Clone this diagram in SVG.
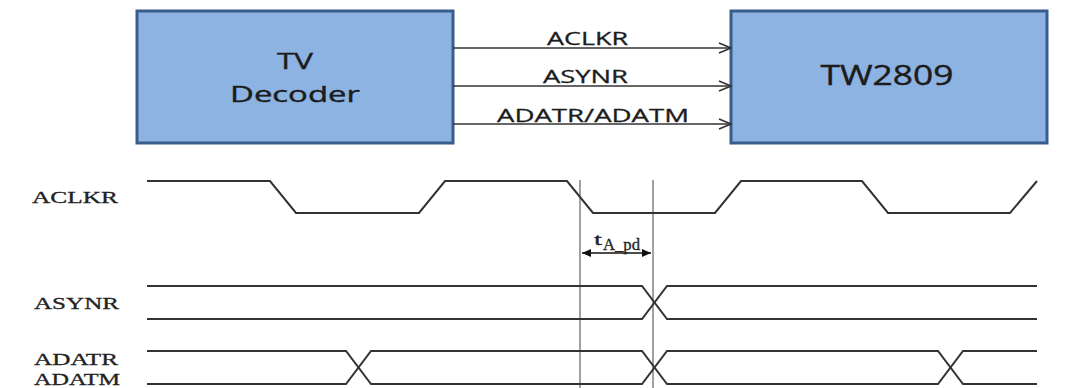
<svg xmlns="http://www.w3.org/2000/svg" width="1072" height="388" viewBox="0 0 1072 388">
<style>
.box{fill:#8db3e2;stroke:#385d8a;stroke-width:3}
.btxt{font-family:"Open Sans","Liberation Sans",sans-serif;fill:#1c1c1c;stroke:#1c1c1c;stroke-width:0.4;text-anchor:middle}
.conn{stroke:#333;stroke-width:1.5;fill:none}
.ltxt{font-family:"Open Sans","Liberation Sans",sans-serif;font-size:18px;fill:#1c1c1c;stroke:#1c1c1c;stroke-width:0.3}
.wave{stroke:#333;stroke-width:2;fill:none;stroke-linejoin:miter}
.sig{font-family:"Liberation Serif","Times New Roman",serif;font-size:17px;fill:#222;stroke:#222;stroke-width:0.3}
.vline{stroke:#8a8a8a;stroke-width:1.6}
</style>
<defs>
<marker id="open" markerWidth="14" markerHeight="12" refX="13" refY="6" orient="auto" markerUnits="userSpaceOnUse">
<path d="M1,1 L13,6 L1,11" fill="none" stroke="#333" stroke-width="1.5"/>
</marker>
<marker id="fill" markerWidth="10" markerHeight="10" refX="9" refY="5" orient="auto-start-reverse" markerUnits="userSpaceOnUse">
<path d="M0,1 L9,5 L0,9 Z" fill="#111"/>
</marker>
</defs>
<g id="tv-decoder">
<rect class="box" x="137" y="11" width="316" height="132"/>
<text class="btxt" x="295" y="69" font-size="22" textLength="36" lengthAdjust="spacingAndGlyphs">TV</text>
<text class="btxt" x="295" y="102" font-size="22" textLength="130" lengthAdjust="spacingAndGlyphs">Decoder</text>
</g>
<g id="tw2809">
<rect class="box" x="731" y="11" width="316" height="132"/>
<text class="btxt" x="887" y="85" font-size="27" textLength="133" lengthAdjust="spacingAndGlyphs">TW2809</text>
</g>
<g id="connectors">
<line class="conn" x1="453" y1="48" x2="731" y2="48" marker-end="url(#open)"/>
<line class="conn" x1="453" y1="86" x2="731" y2="86" marker-end="url(#open)"/>
<line class="conn" x1="453" y1="124" x2="731" y2="124" marker-end="url(#open)"/>
<text class="ltxt" x="547" y="45" textLength="81" lengthAdjust="spacingAndGlyphs">ACLKR</text>
<text class="ltxt" x="543" y="83" textLength="85" lengthAdjust="spacingAndGlyphs">ASYNR</text>
<text class="ltxt" x="497" y="122" textLength="192" lengthAdjust="spacingAndGlyphs">ADATR/ADATM</text>
</g>
<g id="timing">
<line class="vline" x1="580" y1="180" x2="580" y2="388"/>
<line class="vline" x1="653" y1="180" x2="653" y2="388"/>
<text class="sig" x="32" y="203" textLength="86" lengthAdjust="spacingAndGlyphs">ACLKR</text>
<path class="wave" d="M147,181 H270 L296,213 H419 L445,181 H567 L593,213 H715 L741,181 H862 L888,213 H1010 L1037,181"/>
<line x1="582" y1="253" x2="651" y2="253" stroke="#111" stroke-width="1.5" marker-start="url(#fill)" marker-end="url(#fill)"/>
<text class="sig" x="594" y="245" font-size="18" textLength="8" lengthAdjust="spacingAndGlyphs">t</text>
<text class="sig" x="603" y="250" font-size="12" textLength="37" lengthAdjust="spacingAndGlyphs">A_pd</text>
<text class="sig" x="34" y="309" textLength="85" lengthAdjust="spacingAndGlyphs">ASYNR</text>
<path class="wave" d="M147,286 H642 L667,319 H1037"/>
<path class="wave" d="M147,319 H642 L667,286 H1037"/>
<text class="sig" x="34" y="365" textLength="84" lengthAdjust="spacingAndGlyphs">ADATR</text>
<text class="sig" x="34" y="385" textLength="86" lengthAdjust="spacingAndGlyphs">ADATM</text>
<path class="wave" d="M147,351 H346 L371,384 H642 L667,351 H938 L963,384 H1037"/>
<path class="wave" d="M147,384 H346 L371,351 H642 L667,384 H938 L963,351 H1037"/>
</g>
</svg>
